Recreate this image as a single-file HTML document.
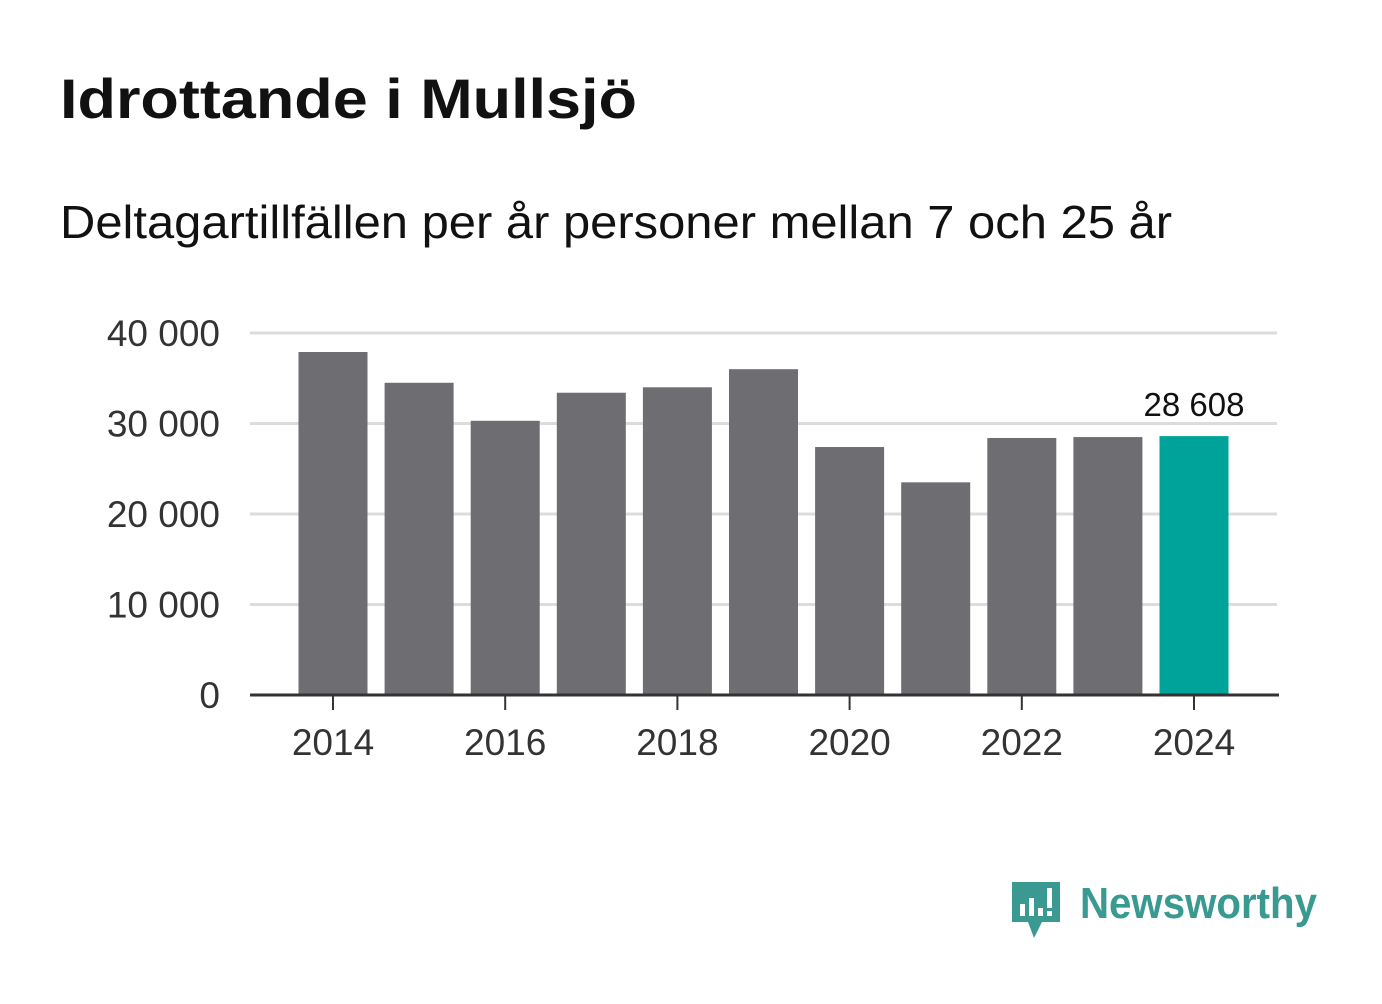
<!DOCTYPE html>
<html><head><meta charset="utf-8"><style>
body{margin:0;background:#fff;font-family:"Liberation Sans",sans-serif;}
</style></head><body>
<svg width="1382" height="999" xmlns="http://www.w3.org/2000/svg">
<text x="60" y="118" font-size="56" font-weight="bold" fill="#111" textLength="577" lengthAdjust="spacingAndGlyphs">Idrottande i Mullsjö</text>
<text x="60" y="238" font-size="46" fill="#111" textLength="1112" lengthAdjust="spacingAndGlyphs">Deltagartillfällen per år personer mellan 7 och 25 år</text>
<g id="plot"></g>
<g>
<path d="M1012 882 h48 v40 h-18 l-8 16 l-6 -16 h-16 z" fill="#3a9a92"/>
<rect x="1020" y="904" width="5" height="12" fill="#fff"/><rect x="1029" y="898" width="5" height="18" fill="#fff"/><rect x="1038" y="908" width="5" height="8" fill="#fff"/><rect x="1047" y="888" width="5" height="20" fill="#fff"/><rect x="1047" y="911" width="5" height="5" fill="#fff"/>
<text x="1080" y="918" font-size="44" font-weight="bold" fill="#3a9a92" textLength="237" lengthAdjust="spacingAndGlyphs">Newsworthy</text>
</g>
</svg>
<script>
const years=[2014,2015,2016,2017,2018,2019,2020,2021,2022,2023,2024];
const values=[37900,34500,30300,33400,34000,36000,27400,23500,28400,28500,28608];
const yTicks=[0,10000,20000,30000,40000];
const yTickLabels=["0","10 000","20 000","30 000","40 000"];
const xTicks=[2014,2016,2018,2020,2022,2024];
const ns="http://www.w3.org/2000/svg";
const g=document.getElementById('plot');
const y=v=>695-v*(362/40000);
const x=yr=>333+(yr-2014)*86.1;
function mk(t,a){const e=document.createElementNS(ns,t);for(const k in a)e.setAttribute(k,a[k]);g.appendChild(e);return e;}
yTicks.forEach((t,i)=>{
 if(t>0){const l=mk('line',{x1:250,x2:1277,y1:y(t),y2:y(t),stroke:'#dcdcdc','stroke-width':3});
 
 }
 const tx=mk('text',{x:220,y:y(t)+13,'text-anchor':'end','font-size':37,fill:'#333'});tx.textContent=yTickLabels[i];
 
 
});
values.forEach((v,i)=>{
 const last=i===values.length-1;
 const r=mk('rect',{x:x(years[i])-34.5,y:y(v),width:69,height:695-y(v),fill:last?'#00a39a':'#6e6d72'});
 
 
 if(last){const t=mk('text',{x:x(years[i]),y:y(v)-20,'text-anchor':'middle','font-size':33,fill:'#111'});t.textContent=v.toLocaleString('sv-SE').replace(/\s/g,' ');
 
 }
});
const ax=mk('line',{x1:250,x2:1279,y1:695,y2:695,stroke:'#333','stroke-width':3});


xTicks.forEach(yr=>{
 const l=mk('line',{x1:x(yr),x2:x(yr),y1:695,y2:710,stroke:'#333','stroke-width':2});
 
 
 const t=mk('text',{x:x(yr),y:755,'text-anchor':'middle','font-size':37,fill:'#333'});t.textContent=yr;
 
 
});
</script>
</body></html>
